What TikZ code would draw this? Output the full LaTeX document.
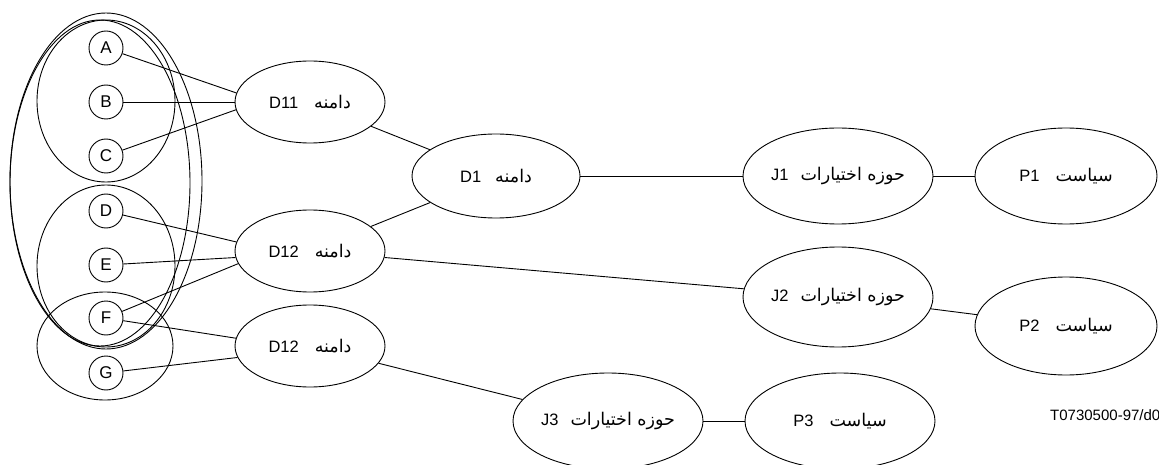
\documentclass[tikz,border=0pt]{standalone}
\usepackage{fontspec}
\setmainfont{Liberation Sans}
\newfontfamily\arabicfont[Script=Arabic]{DejaVu Sans}
\TeXXeTstate=1
\usetikzlibrary{shapes.geometric}
\newcommand{\fatext}[1]{{\arabicfont\fontsize{17.5}{20}\selectfont\beginR #1\endR}}
\begin{document}
\begin{tikzpicture}[x=1pt,y=-1pt,
  leaf/.style={circle, draw, line width=0.9pt, minimum size=34pt, inner sep=0pt, font=\fontsize{17}{20}\selectfont},
  oval/.style={ellipse, draw, line width=0.9pt, inner sep=0pt, font=\fontsize{16.5}{19}\selectfont},
  group/.style={ellipse, draw, line width=0.9pt, inner sep=0pt},
  link/.style={line width=0.9pt}]
\useasboundingbox (0,0) rectangle (1159,465);
% grouping ellipses
\node[group, minimum width=192pt, minimum height=336pt] (gall) at (106,181) {};
\node[group, minimum width=180pt, minimum height=326pt] (gall2) at (100,183) {};
\node[group, minimum width=138pt, minimum height=162pt] (gabc) at (106,101) {};
\node[group, minimum width=138pt, minimum height=162pt] (gdef) at (106,266) {};
\node[group, minimum width=136pt, minimum height=108pt] (gfg) at (105,346) {};
% leaves
\node[leaf, fill=white] (A) at (106,48) {A};
\node[leaf, fill=white] (B) at (106,102) {B};
\node[leaf, fill=white] (C) at (106,156) {C};
\node[leaf, fill=white] (D) at (106,211) {D};
\node[leaf, fill=white] (E) at (106,265) {E};
\node[leaf, fill=white] (F) at (106,318) {F};
\node[leaf, fill=white] (G) at (106,373) {G};
% domains
\node[oval, minimum width=150pt, minimum height=82pt] (D11) at (310,102) {D11\hspace{16pt}\fatext{دامنه}};
\node[oval, minimum width=150pt, minimum height=82pt] (D12a) at (310,251) {D12\hspace{16pt}\fatext{دامنه}};
\node[oval, minimum width=150pt, minimum height=82pt] (D12b) at (310,346) {D12\hspace{16pt}\fatext{دامنه}};
\node[oval, minimum width=168pt, minimum height=84pt] (D1) at (496,176) {D1\hspace{14pt}\fatext{دامنه}};
% jurisdictions
\node[oval, minimum width=190pt, minimum height=96pt] (J1) at (838,176) {J1\hspace{12pt}\fatext{حوزه اختیارات}};
\node[oval, minimum width=190pt, minimum height=100pt] (J2) at (838,297) {J2\hspace{12pt}\fatext{حوزه اختیارات}};
\node[oval, minimum width=190pt, minimum height=96pt] (J3) at (608,421) {J3\hspace{12pt}\fatext{حوزه اختیارات}};
% policies
\node[oval, minimum width=182pt, minimum height=96pt] (P1) at (1066,176) {P1\hspace{16pt}\fatext{سیاست}};
\node[oval, minimum width=182pt, minimum height=98pt] (P2) at (1066,326) {P2\hspace{16pt}\fatext{سیاست}};
\node[oval, minimum width=190pt, minimum height=96pt] (P3) at (840,421) {P3\hspace{16pt}\fatext{سیاست}};
% connectors
\draw[link] (A) -- (D11.173);
\draw[link] (B) -- (D11);
\draw[link] (C) -- (D11.186);
\draw[link] (D) -- (D12a.173);
\draw[link] (E) -- (D12a.185);
\draw[link] (F) -- (D12a.190);
\draw[link] (F) -- (D12b.174);
\draw[link] (G) -- (D12b.189);
\draw[link] (D11) -- (D1);
\draw[link] (D12a) -- (D1);
\draw[link] (D1) -- (J1);
\draw[link] (D12a) -- (J2);
\draw[link] (D12b) -- (J3);
\draw[link] (J1) -- (P1);
\draw[link] (J2) -- (P2);
\draw[link] (J3) -- (P3);
% reference label
\node[anchor=west, inner sep=0pt, font=\fontsize{15}{18}\selectfont] (ref) at (1050,415) {T0730500-97/d02};
\end{tikzpicture}
\end{document}
